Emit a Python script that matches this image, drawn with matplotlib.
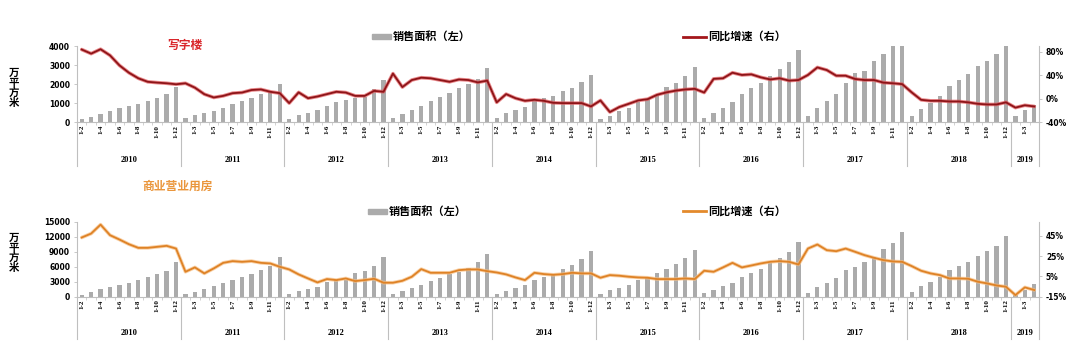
import numpy as np
import matplotlib
matplotlib.use("Agg")
import matplotlib.pyplot as plt
import matplotlib.transforms as mtransforms
from matplotlib.lines import Line2D
from matplotlib.patches import Rectangle

plt.rcParams['font.family'] = ['Noto Sans CJK SC', 'DejaVu Sans']

# Categories: cumulative months per year (2019 only up to 1-4)
years = ['2010', '2011', '2012', '2013', '2014', '2015', '2016', '2017', '2018', '2019']
months = ['1-2', '1-3', '1-4', '1-5', '1-6', '1-7', '1-8', '1-9', '1-10', '1-11', '1-12']
months_2019 = ['1-2', '1-3', '1-4']

# 写字楼 sales area (万平方米)
office_area = [
    157, 280, 454, 611, 734, 856, 978, 1136, 1258, 1467, 1869,      # 2010
    210, 367, 489, 611, 769, 943, 1100, 1293, 1467, 1660, 2009,     # 2011
    157, 402, 489, 646, 856, 1066, 1170, 1258, 1345, 1765, 2219,    # 2012
    245, 454, 664, 839, 1100, 1345, 1520, 1800, 2009, 2271, 2848,   # 2013
    245, 489, 646, 821, 1100, 1258, 1380, 1642, 1817, 2096, 2498,   # 2014
    192, 349, 594, 769, 1083, 1240, 1432, 1834, 2079, 2411, 2917,   # 2015
    245, 472, 734, 1083, 1467, 1782, 2044, 2428, 2813, 3180, 3791,  # 2016
    332, 769, 1100, 1467, 2044, 2603, 2708, 3232, 3581, 4100, 4750, # 2017
    332, 716, 1030, 1397, 1904, 2236, 2550, 2952, 3215, 3599, 4360, # 2018
    332, 646, 908,                                                  # 2019
]
# 写字楼 YoY growth (%)
office_yoy = [
    84, 77, 84.5, 74, 57, 44.5, 35, 29, 27.6, 26.5, 24.8,
    26.5, 19, 7.9, 2.3, 5, 9.6, 10.7, 15, 16, 12, 9.6,
    -7.3, 11, 1, 4, 8, 12, 10.7, 5, 5, 13.5, 12,
    43, 20, 32, 36, 35, 32, 29, 33, 32, 28, 31,
    -6, 8, 1, -3.4, -1.7, -3.4, -6.8, -7.3, -7.3, -7.3, -13,
    -2.8, -22.5, -14, -8.5, -2.8, -0.6, 6.8, 11, 14, 16, 17,
    10.7, 34, 35, 44.5, 40.6, 41.7, 36.6, 33, 35, 31, 32,
    40.6, 53.5, 49, 39.4, 39.4, 33.8, 32, 32, 27.6, 26.5, 25,
    11, -1.7, -3.4, -3.4, -4.5, -4.5, -6, -8.5, -9.6, -9.6, -6,
    -15, -11, -13,
]

# 商业营业用房 sales area (万平方米)
retail_area = [
    333, 867, 1533, 1867, 2400, 2800, 3267, 4000, 4467, 5200, 7000,
    467, 1000, 1533, 2133, 2800, 3400, 3867, 4600, 5400, 6133, 7867,
    467, 1200, 1533, 2000, 2933, 3267, 3333, 4667, 5200, 6133, 7867,
    467, 1133, 1733, 2267, 3067, 3667, 4467, 5000, 5667, 6933, 8533,
    467, 1200, 1667, 2267, 3333, 4000, 4467, 5467, 6333, 7467, 9200,
    467, 1333, 1800, 2400, 3333, 3867, 4667, 5600, 6533, 7733, 9333,
    667, 1333, 2133, 2800, 4000, 4667, 5467, 6667, 7667, 9000, 10867,
    800, 1867, 2800, 3667, 5333, 6000, 7000, 8000, 9467, 10667, 12867,
    1000, 2133, 2933, 4000, 5333, 6133, 7000, 8200, 9200, 10200, 12133,
    333, 1333, 2533,
]
# 商业营业用房 YoY growth (%)
retail_yoy = [
    43.4, 47.3, 56.1, 45.7, 41.4, 36.8, 33.2, 33.2, 34.2, 35.2, 32.5,
    9.6, 13.9, 8, 12.9, 18.4, 20.1, 19.4, 20.1, 18.4, 17.8, 14.5,
    11.9, 7, 3, -0.9, 2.4, 1.4, 3, 0.4, 1.4, 2.7, -1.2,
    -1.2, 0.7, 4.7, 12.2, 8.6, 8.6, 8.6, 11.2, 11.9, 11.9, 10.2,
    8.9, 7, 4, 1.4, 8.6, 7.3, 6.6, 7.3, 8.6, 8, 8,
    3.7, 6.3, 5.7, 4.7, 4, 3.7, 2.4, 2.4, 2.4, 3, 2.4,
    10.6, 9.6, 13.9, 18.4, 13.9, 15.8, 17.8, 19.4, 20.1, 19.4, 16.8,
    32.5, 36.5, 30.9, 29.9, 32.5, 29.3, 26, 23.4, 21.1, 19.8, 19.4,
    15.2, 10.6, 8, 6.3, 3, 3, 2.7, -0.2, -1.9, -3.9, -5.2,
    -13.4, -5.8, -8.4,
]

cat_labels = months * 9 + months_2019
year_sizes = [len(months)] * 9 + [len(months_2019)]

W, H = 1080, 360
BAR_GRAY = '#ababab'
AXIS_GRAY = '#bfbfbf'
SERIF = ['Liberation Serif', 'DejaVu Serif']


def draw_panel(ax, area, yoy, left_lim, left_ticks, right_lim, right_ticks,
               line_color, glow_color):
    x = np.arange(len(cat_labels))
    ax.bar(x, area, width=0.45, color=BAR_GRAY, zorder=1)
    ax.set_xlim(-0.5, len(cat_labels) - 0.5)
    ax.set_ylim(*left_lim)
    ax.set_yticks(left_ticks)
    ax.set_yticklabels([f'{v}' for v in left_ticks], fontsize=5.5,
                       fontweight='bold', family='DejaVu Sans')
    ax.tick_params(axis='y', length=2, width=0.6, color=AXIS_GRAY, pad=3)

    # every other category gets a label, ticks sit on category boundaries
    ax.set_xticks(x[::2])
    ax.set_xticklabels(cat_labels[::2], rotation=90, fontsize=5,
                       fontweight='bold', family=SERIF)
    ax.tick_params(axis='x', which='major', length=0, pad=2)
    ax.set_xticks(np.arange(-0.5, len(cat_labels)), minor=True)
    ax.tick_params(axis='x', which='minor', length=2, width=0.5, color=AXIS_GRAY)

    for s in ['top', 'right']:
        ax.spines[s].set_visible(False)
    for s in ['left', 'bottom']:
        ax.spines[s].set_color(AXIS_GRAY)
        ax.spines[s].set_linewidth(0.8)

    # year groups under the month labels
    trans = mtransforms.blended_transform_factory(ax.transData, ax.transAxes)
    bounds = np.concatenate([[0], np.cumsum(year_sizes)]) - 0.5
    for b in bounds:
        ax.plot([b, b], [0, -0.57], transform=trans, clip_on=False,
                color=AXIS_GRAY, lw=0.8)
    for i, yr in enumerate(years):
        ax.text((bounds[i] + bounds[i + 1]) / 2, -0.49, yr, transform=trans,
                ha='center', va='center', fontsize=6, fontweight='bold',
                family=SERIF)

    ax2 = ax.twinx()
    ax2.plot(x, yoy, color=glow_color, lw=2.6, alpha=0.7,
             solid_capstyle='round', solid_joinstyle='round', zorder=2)
    ax2.plot(x, yoy, color=line_color, lw=1.3,
             solid_joinstyle='round', zorder=3)
    ax2.set_ylim(*right_lim)
    ax2.set_yticks(right_ticks)
    ax2.set_yticklabels([f'{v}%' for v in right_ticks], fontsize=5.5,
                        fontweight='bold', family='DejaVu Sans')
    ax2.tick_params(axis='y', length=2, width=0.6, color=AXIS_GRAY, pad=3)
    for s in ['top', 'left', 'bottom']:
        ax2.spines[s].set_visible(False)
    ax2.spines['right'].set_color(AXIS_GRAY)
    ax2.spines['right'].set_linewidth(0.8)
    return ax2


def fig_legend(fig, y, patch_x, line_x, line_color):
    fig.add_artist(Rectangle((patch_x / W, 1 - (y + 2.5) / H), 19 / W, 5 / H,
                             color=BAR_GRAY, transform=fig.transFigure))
    fig.text((patch_x + 21) / W, 1 - y / H, '销售面积（左）', fontsize=8,
             fontweight='bold', va='center', ha='left')
    fig.add_artist(Line2D([line_x / W, (line_x + 23) / W], [1 - y / H, 1 - y / H],
                          color=line_color, lw=2, transform=fig.transFigure))
    fig.text((line_x + 25) / W, 1 - y / H, '同比增速（右）', fontsize=8,
             fontweight='bold', va='center', ha='left')


fig = plt.figure(figsize=(W / 100, H / 100), dpi=100)
left, right = 77 / W, 1039 / W

ax_top = fig.add_axes([left, 1 - 122.3 / H, right - left, 76.3 / H])
draw_panel(ax_top, office_area, office_yoy, (0, 4000), [0, 1000, 2000, 3000, 4000],
           (-40, 90), [-40, 0, 40, 80], '#8e1418', '#e0585c')

ax_bot = fig.add_axes([left, 1 - 296.7 / H, right - left, 75 / H])
draw_panel(ax_bot, retail_area, retail_yoy, (0, 15000),
           [0, 3000, 6000, 9000, 12000, 15000],
           (-15, 59), [-15, 5, 25, 45], '#de8226', '#f7bd80')

fig_legend(fig, 36.5, 372, 683, '#a3161b')
fig_legend(fig, 211, 368, 683, '#e38a2c')

fig.text(185 / W, 1 - 45 / H, '写字楼', color='#d9262b', fontsize=8.5,
         fontweight='bold', ha='center', va='center')
fig.text(178 / W, 1 - 186 / H, '商业营业用房', color='#ea963c', fontsize=8.5,
         fontweight='bold', ha='center', va='center')

for yc in (88, 253):
    fig.text(14 / W, 1 - yc / H, '万\n平\n方\n米', fontsize=7.5,
             fontweight='bold', ha='center', va='center', linespacing=0.95)

fig.savefig('out.png', dpi=100)
